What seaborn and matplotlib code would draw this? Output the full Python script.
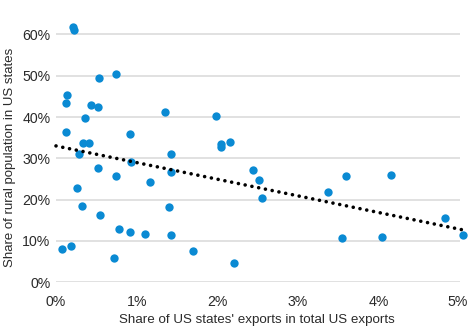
import matplotlib
matplotlib.use("Agg")
import matplotlib.pyplot as plt
import matplotlib.transforms as mtransforms
import seaborn as sns
import numpy as np
import pandas as pd
from matplotlib.ticker import PercentFormatter

# Share of US states' exports in total US exports (fraction)
export_share = [0.00207, 0.0022, 0.00136, 0.00124, 0.00124, 0.00537, 0.00747, 0.0043,
                0.00524, 0.00363, 0.0033, 0.0041, 0.00285, 0.0092, 0.01347, 0.0143,
                0.0198, 0.0204, 0.0204, 0.02156, 0.0052, 0.00747, 0.00925, 0.0143,
                0.01165, 0.0026, 0.0032, 0.0140, 0.00545, 0.00777, 0.0092, 0.0110,
                0.0142, 0.00074, 0.0018, 0.0072, 0.0170, 0.02205, 0.02445, 0.0252,
                0.02556, 0.0337, 0.0359, 0.0415, 0.0354, 0.0404, 0.0482, 0.0504]
# Share of rural population (fraction)
rural_share = [0.618, 0.610, 0.453, 0.434, 0.364, 0.494, 0.504, 0.430,
               0.424, 0.398, 0.337, 0.337, 0.310, 0.359, 0.413, 0.311,
               0.403, 0.334, 0.328, 0.339, 0.277, 0.258, 0.292, 0.267,
               0.243, 0.229, 0.185, 0.182, 0.163, 0.128, 0.122, 0.116,
               0.114, 0.081, 0.089, 0.060, 0.076, 0.046, 0.272, 0.248,
               0.203, 0.219, 0.257, 0.260, 0.107, 0.110, 0.155, 0.115]

df = pd.DataFrame({"exports": export_share, "rural": rural_share})

sns.set_theme(style="white")
plt.rcParams['font.family'] = ['Liberation Sans', 'DejaVu Sans']

fig = plt.figure(figsize=(4.68, 3.27), dpi=100)
ax = fig.add_axes([56/468, 1 - 282.3/327, (459.5 - 56)/468, (282.3 - 9.7)/327])
ax.set_xlim(0, 0.0504)
ax.set_ylim(0, 0.66)

text_color = "#2a2a2a"
ax.set_yticks([0, 0.1, 0.2, 0.3, 0.4, 0.5, 0.6])
ax.set_xticks([0, 0.01, 0.02, 0.03, 0.04, 0.05])
ax.yaxis.set_major_formatter(PercentFormatter(1.0, decimals=0))
ax.xaxis.set_major_formatter(PercentFormatter(1.0, decimals=0))
ax.grid(axis="y", color="#dcdcdc", linewidth=1.2)
ax.set_axisbelow(True)
for s in ax.spines.values():
    s.set_visible(False)

sns.regplot(data=df, x="exports", y="rural", ax=ax, ci=None, truncate=False,
            scatter_kws=dict(s=36, color="#0a8ad3", alpha=1, linewidths=0, clip_on=False, zorder=3),
            line_kws=dict(color="black", linewidth=2.6, linestyle=(0, (0.01, 1.9)),
                          dash_capstyle="round", clip_on=False, zorder=4))

ax.set_xlim(0, 0.05)
ax.tick_params(axis="y", length=0, labelsize=10.2, colors=text_color, pad=4)
ax.tick_params(axis="x", length=0, labelsize=10.2, colors=text_color, pad=9.5)
ax.set_xlabel("Share of US states' exports in total US exports", fontsize=9.6, color=text_color, va="center")
ax.set_ylabel("Share of rural population in US states", fontsize=9.5, color=text_color, va="center")
ax.xaxis.set_label_coords((257 - 56) / 403.5, -(320 - 282.3) / 272.6)
ax.yaxis.set_label_coords((10 - 56) / 403.5, (282.3 - 157.5) / 272.6)

# nudge the last x tick label slightly inward so it is not clipped at the edge
last = ax.get_xticklabels()[-1]
last.set_transform(last.get_transform() + mtransforms.ScaledTranslation(-2 / 100, 0, fig.dpi_scale_trans))

fig.savefig("out.png", dpi=100)
